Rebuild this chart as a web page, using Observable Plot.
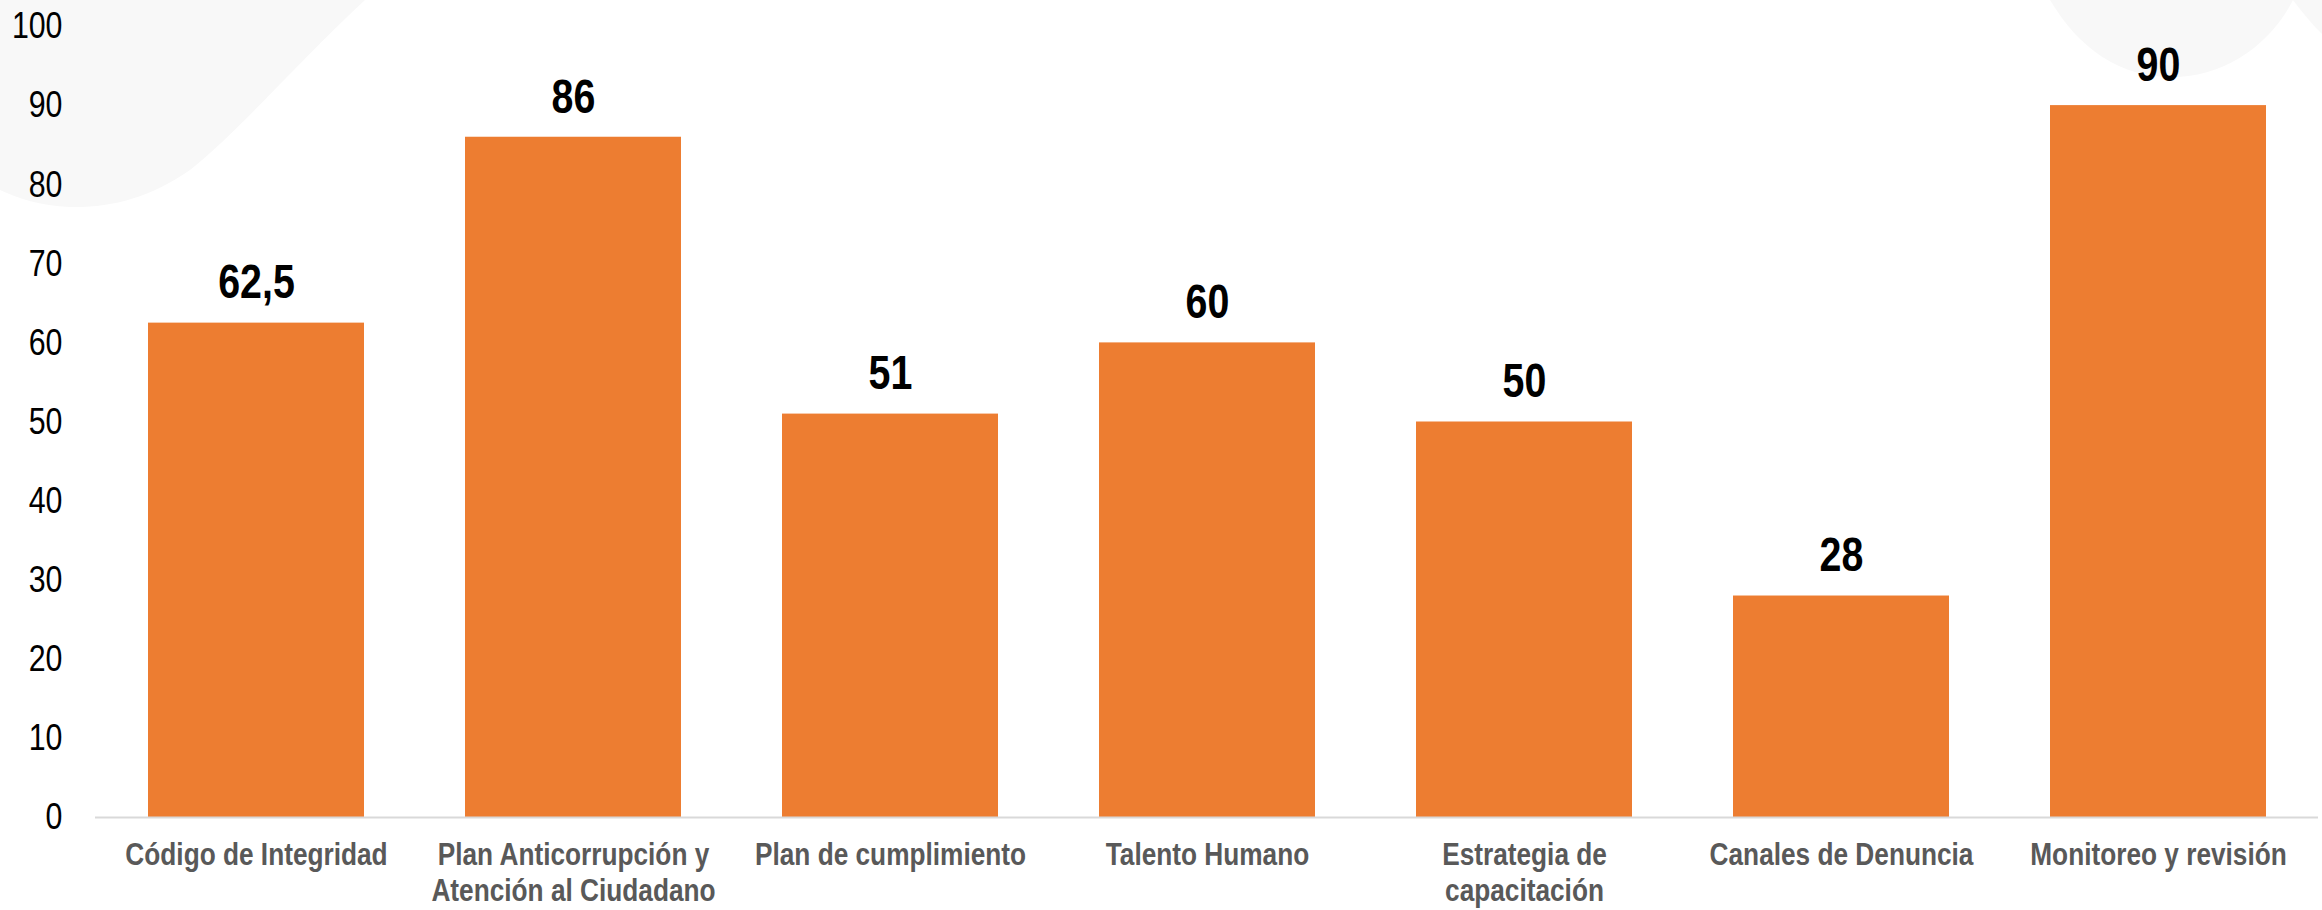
<!DOCTYPE html>
<html>
<head>
<meta charset="utf-8">
<script src="https://cdn.jsdelivr.net/npm/d3@7"></script>
<script src="https://cdn.jsdelivr.net/npm/@observablehq/plot@0.6"></script>
<style>
  html, body { margin: 0; padding: 0; background: #ffffff; }
  #wrap { position: relative; width: 2322px; height: 910px; overflow: hidden; }
  #deco { position: absolute; left: 0; top: 0; }
  #chart { position: absolute; left: 0; top: 0; }
</style>
</head>
<body>
<div id="wrap">
  <svg id="deco" width="2322" height="910">
    <path d="M0,0 L365,0 C300,60 240,130 190,170 C150,198 110,208 70,207 C40,206 18,198 0,190 Z" fill="#f8f8f8"/>
    <path d="M2050,0 C2080,50 2120,77 2172,77 C2225,77 2270,45 2293,0 Z" fill="#f8f8f8"/>
    <path d="M2293,0 C2302,12 2312,24 2322,34 L2322,0 Z" fill="#f8f8f8"/>
  </svg>
  <div id="chart"></div>
</div>
<script>
const categories = [
  "Código de Integridad",
  "Plan Anticorrupción y\nAtención al Ciudadano",
  "Plan de cumplimiento",
  "Talento Humano",
  "Estrategia de\ncapacitación",
  "Canales de Denuncia",
  "Monitoreo y revisión"
];
const values = [62.5, 86, 51, 60, 50, 28, 90];
const yTicks = [0, 10, 20, 30, 40, 50, 60, 70, 80, 90, 100];

const data = categories.map((c, i) => ({category: c, value: values[i]}));
const fmt = d3.formatLocale({decimal: ",", thousands: ".", grouping: [3], currency: ["", ""]}).format(",~r");
const narrow = "'Liberation Sans Narrow', 'Arial Narrow', 'Liberation Sans', Arial, sans-serif";

const chart = Plot.plot({
  width: 2322,
  height: 910,
  marginLeft: 95,
  marginRight: 4,
  marginTop: 26,
  marginBottom: 93,
  style: {background: "transparent", fontFamily: narrow},
  x: {domain: categories, paddingInner: 0.32, paddingOuter: 0.16, label: null},
  y: {domain: [0, 100], label: null},
  marks: [
    Plot.barY(data, {x: "category", y: "value", fill: "#ED7D31"}),
    Plot.ruleY([0], {stroke: "#d9d9d9", strokeWidth: 2}),
    Plot.text(data, {
      x: "category", y: "value", text: d => fmt(d.value),
      dy: -40, fontSize: 48, fontWeight: "bold", fill: "#000000"
    }),
    Plot.axisY({
      ticks: yTicks, tickSize: 0, tickPadding: 33, fontSize: 37,
      fill: "#000000", tickFormat: d => String(d)
    }),
    Plot.axisX({
      tickSize: 0, tickPadding: 22, fontSize: 32, fontWeight: "bold",
      fill: "#595959", lineHeight: 1.12
    })
  ]
});
document.getElementById("chart").appendChild(chart);

// Emulate a narrow (Arial Narrow-like) face by condensing each text horizontally around its anchor.
const SQUEEZE = 0.82;
chart.querySelectorAll("text").forEach(t => {
  const tr = t.getAttribute("transform");
  if (tr) {
    t.setAttribute("transform", tr + ` scale(${SQUEEZE},1)`);
  } else {
    const x = +(t.getAttribute("x") || 0), y = +(t.getAttribute("y") || 0);
    t.removeAttribute("x"); t.removeAttribute("y");
    t.setAttribute("transform", `translate(${x},${y}) scale(${SQUEEZE},1)`);
  }
});
</script>
</body>
</html>
